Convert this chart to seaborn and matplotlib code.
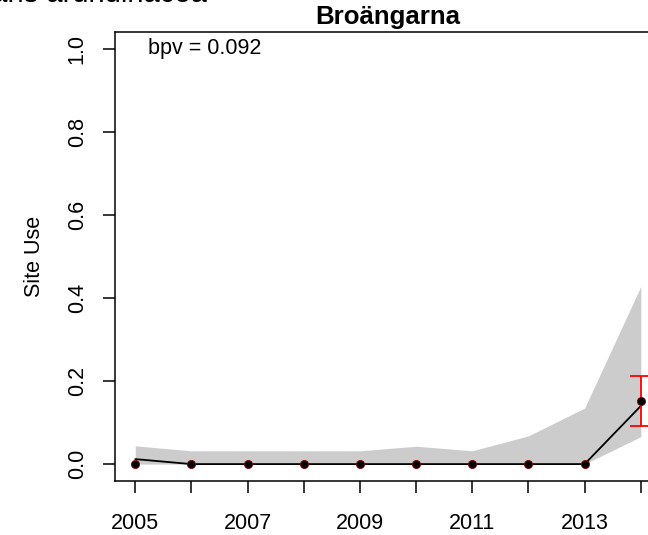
import numpy as np
import pandas as pd
import seaborn as sns
import matplotlib.pyplot as plt

# values
years = [2005, 2006, 2007, 2008, 2009, 2010, 2011, 2012, 2013, 2014]
mean_use = [0.012, 0.0, 0.0, 0.0, 0.0, 0.0, 0.0, 0.0, 0.0, 0.14]
observed_use = [0.0, 0.0, 0.0, 0.0, 0.0, 0.0, 0.0, 0.0, 0.0, 0.152]
band_low = [0.0, 0.0, 0.0, 0.0, 0.0, 0.0, 0.0, 0.0, 0.0, 0.066]
band_high = [0.044, 0.032, 0.032, 0.032, 0.032, 0.043, 0.032, 0.068, 0.135, 0.428]
err_year = [2014]
err_mid = [0.152]
err_low = [0.092]
err_high = [0.211]
y_ticks = [0.0, 0.2, 0.4, 0.6, 0.8, 1.0]
y_tick_labels = ["0.0", "0.2", "0.4", "0.6", "0.8", "1.0"]
x_tick_labels = ["2005", "", "2007", "", "2009", "", "2011", "", "2013", ""]
site_name = "Broängarna"
species_name = "Phalaris arundinacea"
bpv_text = "bpv = 0.092"

sns.set_style("ticks")
plt.rcParams['font.family'] = ['Liberation Sans', 'DejaVu Sans']
plt.rcParams['axes.linewidth'] = 1.1
plt.rcParams['text.color'] = 'black'
plt.rcParams['axes.labelcolor'] = 'black'
plt.rcParams['xtick.color'] = 'black'
plt.rcParams['ytick.color'] = 'black'

df = pd.DataFrame({'Year': years, 'Mean': mean_use, 'Observed': observed_use,
                   'Low': band_low, 'High': band_high})

fig = plt.figure(figsize=(6.48, 5.35), dpi=100)
ax = fig.add_axes([0.1775, 0.1015, 0.8426, 0.8381])

ax.fill_between(df['Year'], df['Low'], df['High'], color='#cccccc', linewidth=0, zorder=1)
sns.lineplot(data=df, x='Year', y='Mean', color='black', linewidth=1.3, ax=ax, zorder=2)
lo = np.array(err_mid) - np.array(err_low)
hi = np.array(err_high) - np.array(err_mid)
ax.errorbar(err_year, err_mid, yerr=[lo, hi], fmt='none', ecolor='red',
            elinewidth=1.3, capsize=7.7, capthick=1.3, zorder=3)
sns.scatterplot(data=df, x='Year', y='Observed', color='black', edgecolor='#8b0000',
                linewidth=0.6, s=34, ax=ax, zorder=4)

ax.set_xlim(2004.64, 2014.36)
ax.set_ylim(-0.04, 1.04)
ax.set_xticks(years, labels=x_tick_labels)
ax.set_yticks(y_ticks, labels=y_tick_labels, rotation=90, va='center')
ax.tick_params(axis='both', direction='out', length=8.6, width=1.1,
               labelsize=15.5, colors='black')
ax.tick_params(axis='x', pad=15)
ax.tick_params(axis='y', pad=11)
ax.set_xlabel("")
ax.set_ylabel("Site Use", fontsize=15.5, labelpad=16)
ax.set_title(site_name, fontsize=18.6, fontweight='bold', pad=6, color='black')
for side in ['top', 'right', 'left', 'bottom']:
    ax.spines[side].set_visible(True)
    ax.spines[side].set_color('black')

ax.text(2005.23, 0.987, bpv_text, fontsize=15.5, ha='left', va='baseline')
fig.text(207 / 648, 1 - 2 / 535, species_name, fontsize=21, ha='right', va='baseline')

fig.savefig('out.png', dpi=100)
